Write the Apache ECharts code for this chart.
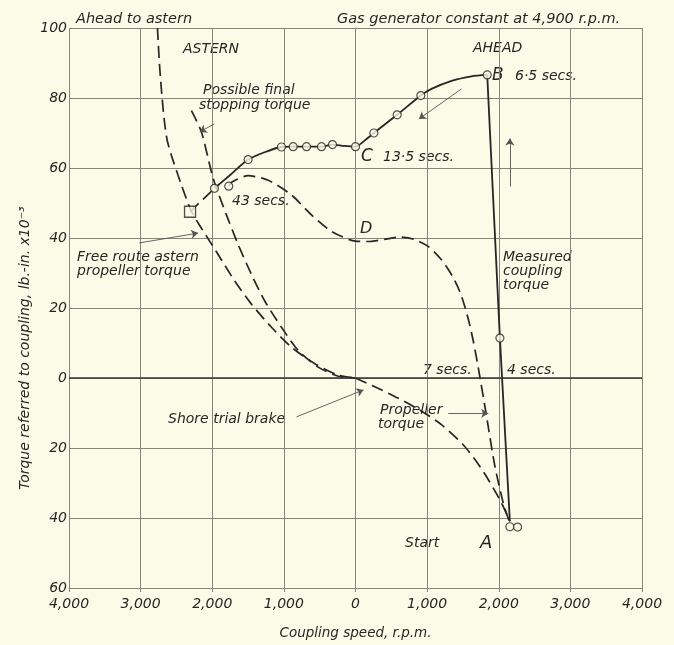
<!DOCTYPE html>
<html>
<head>
<meta charset="utf-8">
<script src="https://cdn.jsdelivr.net/npm/echarts@6/dist/echarts.min.js"></script>
<style>
  html, body { margin: 0; padding: 0; background: #fcfbe7; }
  #chart { width: 674px; height: 645px; }
</style>
</head>
<body>
<div id="chart"></div>
<script>
// axis ranges (coupling speed r.p.m., torque lb.-in. x10^-3)
var xTicks = [-4000, -3000, -2000, -1000, 0, 1000, 2000, 3000, 4000];
var yTicks = [-60, -40, -20, 0, 20, 40, 60, 80, 100];

// measured coupling torque, solid curve from B round to the astern end
var measuredCurve = [[1839, 86.6], [1620, 86.2], [1341, 84.9], [1061, 82.6], [912, 80.7], [582, 75.2],
    [256, 70], [130, 67.9], [0, 66.1], [-160, 66.3], [-321, 66.7], [-475, 66.1], [-684, 66.1], [-870, 66.1],
    [-1034, 66.0], [-1270, 64.5], [-1499, 62.4], [-1750, 58], [-1969, 54.2]];
// measured coupling torque, straight drop from B to start A
var measuredDrop = [[1839, 86.6], [2016, 11.4], [2155, -40.9]];
// open circles (test readings)
var readings = [[2016, 11.4], [1839, 86.6], [912, 80.7], [582, 75.2], [256, 70], [0, 66.1],
    [-321, 66.7], [-475, 66.1], [-684, 66.1], [-870, 66.1], [-1034, 66.0], [-1499, 62.4],
    [-1969, 54.2], [-1770, 54.8], [2155, -42.5], [2263, -42.6]];
// free route astern point (square) and its dashed link
var squarePoint = [[-2310, 47.5]];
var squareLink = [[-2310, 47.5], [-1969, 54.2]];

// dashed curves
var freeRoute = [[-2765, 100], [-2752, 95], [-2738, 90], [-2720, 85], [-2700, 80], [-2672, 74],
    [-2630, 68], [-2570, 63.6], [-2430, 55.1], [-2291, 47.6], [-2151, 42.8], [-1918, 35.3],
    [-1686, 27.7], [-1453, 21.1], [-1173, 14.5], [-894, 8.8], [-568, 4.1], [-242, 0.8], [0, 0]];
var stoppingTorque = [[-2291, 76.4], [-2151, 70.3], [-1987, 57.0], [-1802, 46.6], [-1638, 38.1],
    [-1453, 29.6], [-1267, 22.0], [-1034, 14.5], [-800, 7.9], [-521, 3.1], [-242, 0.5], [0, 0]];
var shoreBrake = [[0, 0], [300, -2.8], [600, -5.8], [900, -9.2], [1200, -13.3], [1500, -19],
    [1700, -24.2], [1853, -29], [2039, -35.7], [2155, -41]];
var propellerTorque = [[-1770, 54.8], [-1718, 56.1], [-1499, 57.8], [-1219, 56.5], [-894, 52.3],
    [-615, 46.6], [-335, 41.9], [0, 39.1], [200, 39.0], [400, 39.6], [620, 40.3], [820, 39.6],
    [1015, 37.6], [1200, 33.8], [1350, 29.2], [1460, 24.5], [1560, 18], [1640, 11], [1713, 3.1],
    [1830, -11], [1946, -25.2], [2063, -35.7], [2155, -41.5]];

// leader lines and arrows [from, to]
var arrows = [
    [[1480, 82.6], [885, 74]],
    [[2155, 54.7], [2155, 68.4]],
    [[-1970, 72.6], [-2175, 70.3]],
    [[-3017, 38.6], [-2197, 41.4]],
    [[-824, -11.1], [112, -3.4]],
    [[1294, -10.1], [1853, -10.1]]
];

var ink = '#262626';
var grey = '#85857b';
var paper = '#fcfbe7';
var font = 'DejaVu Sans';

var chart = echarts.init(document.getElementById('chart'));

function txt(s, x, y, size, align) {
    return {
        type: 'text', x: x, y: y, silent: true,
        style: {
            text: s, fill: ink, font: 'italic ' + (size || 14) + 'px "' + font + '"',
            textAlign: align || 'left', textVerticalAlign: 'middle'
        }
    };
}

function dashed(data) {
    return {
        type: 'line', data: data, smooth: 0.25, showSymbol: false, silent: true,
        lineStyle: { color: ink, width: 1.7, type: [12, 6] }, z: 3
    };
}

var option = {
    backgroundColor: paper,
    animation: false,
    grid: { left: 69, right: 32, top: 28, bottom: 54 },
    xAxis: {
        type: 'value', min: xTicks[0], max: xTicks[xTicks.length - 1], interval: 1000,
        name: 'Coupling speed, r.p.m.', nameLocation: 'middle', nameGap: 38,
        nameTextStyle: { color: ink, fontFamily: font, fontStyle: 'italic', fontSize: 13.5 },
        axisLine: { onZero: false, lineStyle: { color: grey, width: 1 } },
        axisTick: { show: true, length: 4, lineStyle: { color: grey } },
        axisLabel: {
            color: ink, fontFamily: font, fontStyle: 'italic', fontSize: 14, margin: 9,
            formatter: function (v) { return Math.abs(v).toLocaleString('en-US'); }
        },
        splitLine: { show: true, lineStyle: { color: grey, width: 1 } }
    },
    yAxis: {
        type: 'value', min: yTicks[0], max: yTicks[yTicks.length - 1], interval: 20,
        axisLine: { show: true, lineStyle: { color: grey, width: 1 } },
        axisTick: { show: true, length: 6, lineStyle: { color: grey } },
        axisLabel: {
            color: ink, fontFamily: font, fontStyle: 'italic', fontSize: 14, margin: 2,
            formatter: function (v) { return Math.abs(v); }
        },
        splitLine: { show: true, lineStyle: { color: grey, width: 1 } }
    },
    series: [
        {
            // zero torque line
            type: 'line', data: [], silent: true,
            markLine: {
                silent: true, symbol: 'none', label: { show: false },
                lineStyle: { color: '#333', width: 1.6, type: 'solid' },
                data: [{ yAxis: 0 }]
            }
        },
        dashed(freeRoute),
        dashed(stoppingTorque),
        dashed(shoreBrake),
        dashed(propellerTorque),
        dashed(squareLink),
        {
            type: 'line', data: measuredCurve, smooth: 0.25, showSymbol: false, silent: true,
            lineStyle: { color: ink, width: 1.8 }, z: 4
        },
        {
            type: 'line', data: measuredDrop, smooth: false, showSymbol: false, silent: true,
            lineStyle: { color: ink, width: 1.8 }, z: 4
        },
        {
            type: 'lines', coordinateSystem: 'cartesian2d', silent: true, z: 4,
            symbol: ['none', 'arrow'], symbolSize: 7,
            lineStyle: { color: '#555', width: 0.9, opacity: 1 },
            data: arrows.map(function (a) { return { coords: a }; })
        },
        {
            type: 'scatter', data: readings, symbol: 'circle', symbolSize: 8, silent: true, z: 6,
            itemStyle: { color: paper, borderColor: ink, borderWidth: 1.2 }
        },
        {
            type: 'scatter', data: squarePoint, symbol: 'rect', symbolSize: 11, silent: true, z: 6,
            itemStyle: { color: paper, borderColor: ink, borderWidth: 1.3 }
        }
    ],
    graphic: [
        txt('Ahead to astern', 76, 19, 14.5),
        txt('Gas generator constant at 4,900 r.p.m.', 337, 19, 14.5),
        txt('ASTERN', 183, 49),
        txt('AHEAD', 473, 48),
        txt('Possible final', 203, 90),
        txt('stopping torque', 199, 105),
        txt('43 secs.', 232, 201),
        txt('Free route astern', 77, 257),
        txt('propeller torque', 77, 271),
        txt('B', 492, 76, 17),
        txt('6·5 secs.', 515, 76),
        txt('C', 361, 157, 17),
        txt('13·5 secs.', 383, 157),
        txt('D', 360, 229, 16),
        txt('Measured', 503, 257),
        txt('coupling', 503, 271),
        txt('torque', 503, 285),
        txt('7 secs.', 423, 370),
        txt('4 secs.', 507, 370),
        txt('Shore trial brake', 168, 419),
        txt('Propeller', 380, 410),
        txt('torque', 378, 424),
        txt('Start', 405, 543),
        txt('A', 480, 543, 18),
        {
            type: 'text', x: 25, y: 348, rotation: Math.PI / 2, silent: true,
            style: {
                text: 'Torque referred to coupling, lb.-in. x10⁻³', fill: ink,
                font: 'italic 14px "' + font + '"', textAlign: 'center', textVerticalAlign: 'middle'
            }
        }
    ]
};

chart.setOption(option);
</script>
</body>
</html>
